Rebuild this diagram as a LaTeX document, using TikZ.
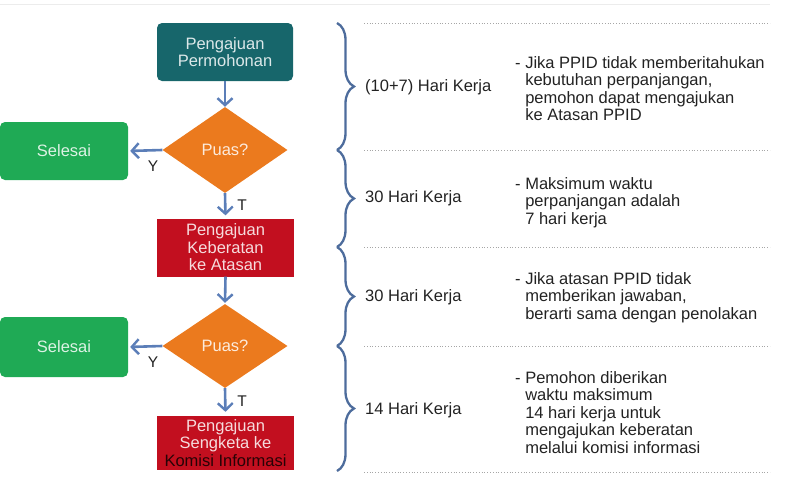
\documentclass[tikz,border=0pt]{standalone}
\usepackage{fontspec}
\setmainfont{Liberation Sans}
\usetikzlibrary{shapes.geometric,arrows.meta,decorations.pathreplacing}
\definecolor{tealc}{HTML}{17666B}
\definecolor{redc}{HTML}{C20F1F}
\definecolor{orangec}{HTML}{EB7A1E}
\definecolor{greenc}{HTML}{1FAA55}
\definecolor{arrowc}{HTML}{5B7EB8}
\definecolor{bracec}{HTML}{4D6C9C}
\definecolor{txt}{HTML}{222222}
\tikzset{
  every node/.style={font=\fontsize{16.5}{17.5}\selectfont},
  tealbox/.style={fill=tealc,rounded corners=5pt,minimum width=136pt,minimum height=58pt,text=white!85!tealc,align=center,inner sep=0},
  redbox/.style={fill=redc,minimum width=137pt,minimum height=58pt,text=white!85!redc,align=center,inner sep=0},
  greenbox/.style={fill=greenc,rounded corners=5pt,minimum width=128pt,minimum height=58pt,text=white!85!greenc,inner sep=0},
  decision/.style={diamond,fill=orangec,minimum width=125pt,minimum height=86pt,inner sep=0,text=white!85!orangec},
  flow/.style={draw=arrowc,line width=2.6pt,-{Straight Barb[length=7pt,width=15pt,line width=2.4pt]}},
  yt/.style={text=txt,font=\fontsize{15.5}{15.5}\selectfont},
  bracedeco/.style={draw=bracec,line width=2.3pt,decorate,decoration={brace,amplitude=17pt}},
  sep/.style={draw=gray!70,dotted,line width=0.8pt},
  lbl/.style={text=txt,anchor=west,inner sep=0},
  note/.style={text=txt,anchor=north west,align=left,inner sep=0},
}
\newcommand{\ind}{\phantom{- }}
\begin{document}
\begin{tikzpicture}[x=1pt,y=-1pt]
\useasboundingbox (0,0) rectangle (788,482);
\draw[gray!15,line width=0.8pt] (0,4) -- (770,4);
% flowchart
\node[tealbox] (p1) at (225,52) {Pengajuan\\Permohonan};
\node[decision] (d1) at (225,150) {Puas?};
\node[greenbox] (s1) at (64,151) {Selesai};
\node[redbox] (k1) at (225.5,247.5) {Pengajuan\\Keberatan\\ke Atasan};
\node[decision,minimum height=84pt] (d2) at (225,346) {Puas?};
\node[greenbox,minimum height=60pt] (s2) at (64,347) {Selesai};
\node[redbox,minimum height=54pt] (k2) at (225.5,443) {Pengajuan\\Sengketa ke\\\textcolor{black!80!redc}{Komisi Informasi}};
\draw[flow] (p1.south) -- (d1.north);
\draw[flow,shorten >=2pt] (d1.west) -- (s1.east);
\draw[flow,shorten >=3pt] (d1.south) -- (k1.north);
\draw[flow,shorten >=1pt] (k1.south) -- (d2.north);
\draw[flow,shorten >=2pt] (d2.west) -- (s2.east);
\draw[flow,shorten >=4pt] (d2.south) -- (k2.north);
\node[yt] (y1) at (153,166) {Y};
\node[yt] (t1) at (242,205) {T};
\node[yt] (y2) at (153,362) {Y};
\node[yt] (t2) at (242,401) {T};
% braces
\coordinate (b0) at (337,23);
\coordinate (b1) at (337,150);
\coordinate (b2) at (337,247);
\coordinate (b3) at (337,346);
\coordinate (b4) at (337,471);
\draw[bracedeco] (b0) -- (b1);
\draw[bracedeco] (b1) -- (b2);
\draw[bracedeco] (b2) -- (b3);
\draw[bracedeco] (b3) -- (b4);
% separators
\coordinate (l0a) at (364,23);  \coordinate (l0b) at (770,23);
\coordinate (l1a) at (364,150); \coordinate (l1b) at (770,150);
\coordinate (l2a) at (364,247); \coordinate (l2b) at (770,247);
\coordinate (l3a) at (364,346); \coordinate (l3b) at (770,346);
\coordinate (l4a) at (364,472); \coordinate (l4b) at (770,472);
\draw[sep] (l0a) -- (l0b);
\draw[sep] (l1a) -- (l1b);
\draw[sep] (l2a) -- (l2b);
\draw[sep] (l3a) -- (l3b);
\draw[sep] (l4a) -- (l4b);
% labels
\node[lbl] (h1) at (365,87) {(10+7) Hari Kerja};
\node[lbl] (h2) at (365,198) {30 Hari Kerja};
\node[lbl] (h3) at (365,297) {30 Hari Kerja};
\node[lbl] (h4) at (365,410) {14 Hari Kerja};
% notes
\node[note] (n1) at (515,56) {- Jika PPID tidak memberitahukan\\\ind kebutuhan perpanjangan,\\\ind pemohon dapat mengajukan\\\ind ke Atasan PPID};
\node[note] (n2) at (515,177) {- Maksimum waktu\\\ind perpanjangan adalah\\\ind 7 hari kerja};
\node[note] (n3) at (515,272) {- Jika atasan PPID tidak\\\ind memberikan jawaban,\\\ind berarti sama dengan penolakan};
\node[note] (n4) at (515,371) {- Pemohon diberikan\\\ind waktu maksimum\\\ind 14 hari kerja untuk\\\ind mengajukan keberatan\\\ind melalui komisi informasi};
\end{tikzpicture}
\end{document}
